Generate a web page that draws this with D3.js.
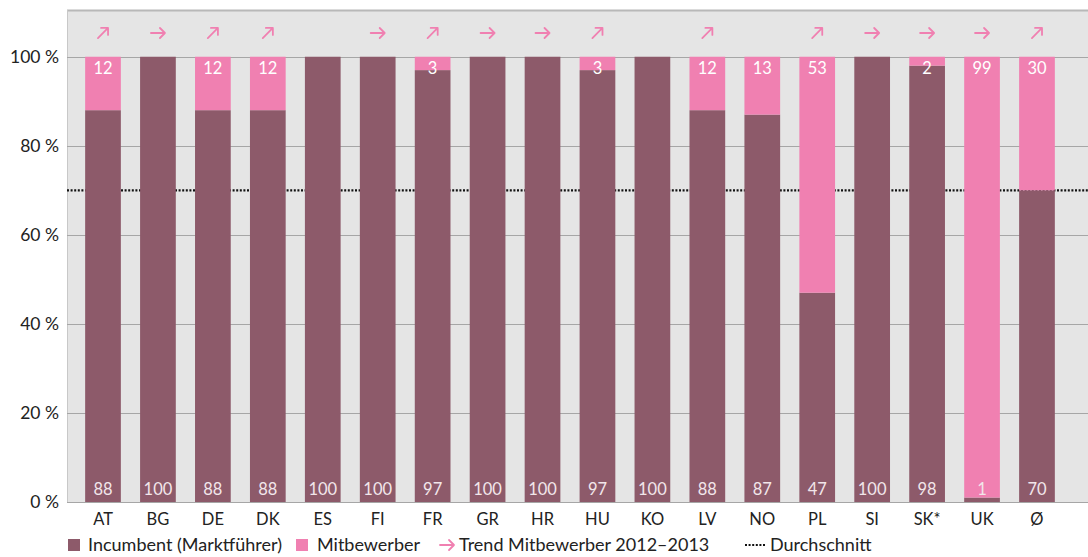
<!DOCTYPE html>
<html lang="de">
<head>
<meta charset="utf-8">
<title>Incumbent vs. Mitbewerber</title>
<script src="https://d3js.org/d3.v7.min.js"></script>
<style>
  body { margin: 0; background: #fff; }
  text { font-family: Lato, "Noto Sans", sans-serif; }
</style>
</head>
<body>
<div id="chart"></div>
<script>
// data
var countries = ["AT","BG","DE","DK","ES","FI","FR","GR","HR","HU","KO","LV","NO","PL","SI","SK*","UK","Ø"];
var incumbent = [88,100,88,88,100,100,97,100,100,97,100,88,87,47,100,98,1,70];
var mitbewerber = [12,0,12,12,0,0,3,0,0,3,0,12,13,53,0,2,99,30];
var trend = ["up","right","up","up","","right","up","right","right","up","","up","","up","right","right","right","up"];
var yTicks = [0,20,40,60,80,100];
var average = 70;

var W = 1088, H = 557;
var colInc = "#8d5a6a", colMit = "#f080b1", bg = "#e5e5e5";

var svg = d3.select("#chart").append("svg")
  .attr("width", W).attr("height", H);

var plotLeft = 67, plotRight = 1088, plotTop = 10, plotBottom = 502;
var step = 54.94;

var x = d3.scaleBand()
  .domain(countries)
  .range([103 - step / 2, 103 - step / 2 + step * countries.length])
  .paddingInner(0.35).paddingOuter(0.175);
var y = d3.scaleLinear().domain([0, 110.5]).range([plotBottom, plotTop]);

// plot background
svg.append("rect")
  .attr("x", plotLeft).attr("y", plotTop)
  .attr("width", plotRight - plotLeft).attr("height", plotBottom - plotTop)
  .attr("fill", bg);
svg.append("line")
  .attr("x1", plotLeft).attr("x2", plotRight)
  .attr("y1", plotTop + 0.5).attr("y2", plotTop + 0.5)
  .attr("stroke", "#b8b8b8").attr("stroke-width", 2);
svg.append("line")
  .attr("x1", plotLeft + 0.5).attr("x2", plotLeft + 0.5)
  .attr("y1", plotTop).attr("y2", plotBottom)
  .attr("stroke", "#c8c8c8");

// gridlines
svg.append("g").selectAll("line")
  .data(yTicks)
  .enter().append("line")
  .attr("x1", plotLeft).attr("x2", plotRight)
  .attr("y1", function (d) { return Math.round(y(d)) + 0.5; })
  .attr("y2", function (d) { return Math.round(y(d)) + 0.5; })
  .attr("stroke", "#a6a6a6").attr("stroke-width", 1);

// y axis labels
var yAxis = d3.axisLeft(y).tickValues(yTicks)
  .tickFormat(function (d) { return d + " %"; })
  .tickSize(0).tickPadding(8);
var ya = svg.append("g").attr("transform", "translate(" + plotLeft + ",0)").call(yAxis);
ya.select(".domain").remove();
ya.selectAll("text").attr("font-size", 17.5).attr("fill", "#222")
  .style("font-family", "Lato, 'Noto Sans', sans-serif");

// average line (behind bars)
svg.append("line")
  .attr("x1", plotLeft).attr("x2", plotRight)
  .attr("y1", y(average)).attr("y2", y(average))
  .attr("stroke", "#111").attr("stroke-width", 2.2)
  .attr("stroke-dasharray", "2,1.6");

// bars
var bars = svg.append("g").selectAll("g")
  .data(countries)
  .enter().append("g");

bars.append("rect")
  .attr("x", function (d) { return x(d); })
  .attr("width", x.bandwidth())
  .attr("y", function (d, i) { return y(incumbent[i]); })
  .attr("height", function (d, i) { return y(0) - y(incumbent[i]); })
  .attr("fill", colInc);

bars.append("rect")
  .attr("x", function (d) { return x(d); })
  .attr("width", x.bandwidth())
  .attr("y", function (d, i) { return y(incumbent[i] + mitbewerber[i]); })
  .attr("height", function (d, i) { return y(incumbent[i]) - y(incumbent[i] + mitbewerber[i]); })
  .attr("fill", colMit);

// value labels
bars.append("text")
  .attr("x", function (d) { return x(d) + x.bandwidth() / 2; })
  .attr("y", y(0) - 7)
  .attr("text-anchor", "middle")
  .attr("font-size", 16.5)
  .attr("fill", "#f2e6ea")
  .text(function (d, i) { return incumbent[i]; });

bars.filter(function (d, i) { return mitbewerber[i] > 0; })
  .append("text")
  .attr("x", function (d) { return x(d) + x.bandwidth() / 2; })
  .attr("y", y(100) + 17)
  .attr("text-anchor", "middle")
  .attr("font-size", 16.5)
  .attr("fill", "#fff")
  .text(function (d) { return mitbewerber[countries.indexOf(d)]; });

// trend arrows
function arrow(g, kind, cx, cy, s) {
  var p = g.append("path")
    .attr("fill", "none").attr("stroke", colMit)
    .attr("stroke-width", 1.8).attr("stroke-linecap", "round").attr("stroke-linejoin", "round");
  if (kind === "right") {
    p.attr("d", "M" + (cx - s) + "," + cy + "H" + (cx + s) +
      "M" + (cx + s - 5) + "," + (cy - 5) + "L" + (cx + s) + "," + cy + "L" + (cx + s - 5) + "," + (cy + 5));
  } else if (kind === "up") {
    var d = s * 0.72;
    p.attr("d", "M" + (cx - d) + "," + (cy + d) + "L" + (cx + d) + "," + (cy - d) +
      "M" + (cx + d - 7) + "," + (cy - d) + "H" + (cx + d) + "V" + (cy - d + 7));
  }
}
countries.forEach(function (c, i) {
  arrow(svg, trend[i], x(c) + x.bandwidth() / 2, 33, 7);
});

// x axis labels
var xAxis = d3.axisBottom(x).tickSize(0).tickPadding(11);
var xa = svg.append("g").attr("transform", "translate(0," + plotBottom + ")").call(xAxis);
xa.select(".domain").remove();
xa.selectAll("text").attr("font-size", 16.5).attr("fill", "#222")
  .style("font-family", "Lato, 'Noto Sans', sans-serif");

// legend
var lg = svg.append("g").attr("transform", "translate(0,545)");
lg.append("rect").attr("x", 68).attr("y", -6).attr("width", 12).attr("height", 12).attr("fill", colInc);
lg.append("text").attr("x", 88).attr("y", 6).attr("font-size", 18).attr("fill", "#222")
  .text("Incumbent (Marktführer)");
lg.append("rect").attr("x", 296).attr("y", -6).attr("width", 12).attr("height", 12).attr("fill", colMit);
lg.append("text").attr("x", 317).attr("y", 6).attr("font-size", 18).attr("fill", "#222")
  .text("Mitbewerber");
arrow(lg, "right", 447, 0, 7);
lg.append("text").attr("x", 459).attr("y", 6).attr("font-size", 18).attr("fill", "#222")
  .text("Trend Mitbewerber 2012–2013");
lg.append("line").attr("x1", 745).attr("x2", 765).attr("y1", 0).attr("y2", 0)
  .attr("stroke", "#111").attr("stroke-width", 2).attr("stroke-dasharray", "2,1.6");
lg.append("text").attr("x", 770).attr("y", 6).attr("font-size", 18).attr("fill", "#222")
  .text("Durchschnitt");
</script>
</body>
</html>
